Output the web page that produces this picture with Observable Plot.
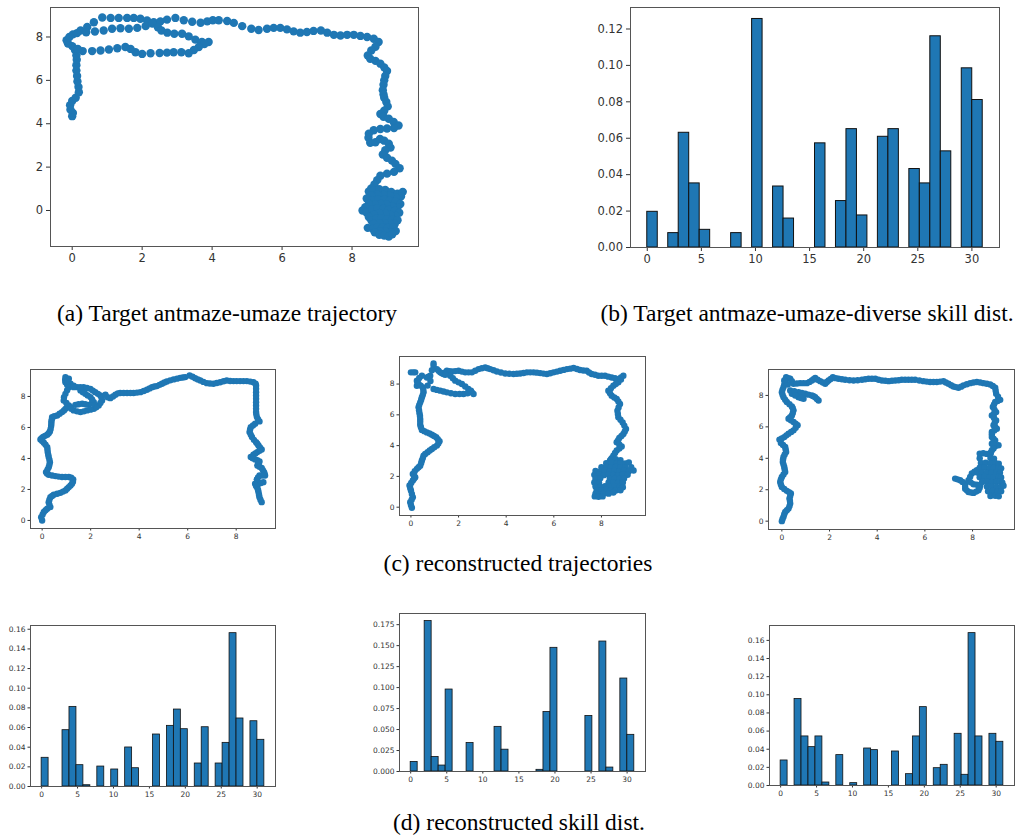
<!DOCTYPE html>
<html><head><meta charset="utf-8">
<script src="https://cdn.jsdelivr.net/npm/d3@7"></script>
<script src="https://cdn.jsdelivr.net/npm/@observablehq/plot@0.6"></script>
<style>
body{margin:0;background:#fff;}
#fig{position:relative;width:1019px;height:836px;overflow:hidden;background:#fff;}
.cap{position:absolute;font-family:"Liberation Serif","Times New Roman",serif;font-size:23.5px;line-height:23.5px;white-space:nowrap;color:#000;transform:translateX(-50%);}
</style></head><body><div id="fig"></div>
<script>
// ---------- data ----------
const skillBins = d3.range(32);           // skill ids 0..31 (hist, 32 bins over [0,31])
const skillTicks = [0, 5, 10, 15, 20, 25, 30];
const trajTicks = [0, 2, 4, 6, 8];

const targetSkill = [0.0196,0,0.0079,0.0630,0.0352,0.0097,0,0,0.0079,0,0.1255,0,0.0335,0.0159,0,0,0.0572,0,0.0255,0.0650,0.0176,0,0.0608,0.0650,0,0.0431,0.0352,0.1160,0.0528,0,0.0984,0.0810];
const reconSkill1 = [0.0292,0,0,0.0573,0.0810,0.0217,0.0013,0,0.0203,0,0.0173,0,0.0397,0.0186,0,0,0.0529,0,0.0617,0.0783,0.0583,0,0.0234,0.0603,0,0.0234,0.0444,0.1560,0.0692,0,0.0664,0.0475];
const reconSkill2 = [0.0114,0,0.1793,0.0173,0.0071,0.0977,0,0,0.0339,0,0,0,0.0532,0.0260,0,0,0,0,0.0020,0.0709,0.1474,0,0,0,0,0.0662,0,0.1549,0.0047,0,0.1108,0.0437];
const reconSkill3 = [0.0276,0,0.0953,0.0541,0.0423,0.0541,0.0033,0,0.0335,0,0.0026,0,0.0408,0.0390,0,0,0.0375,0,0.0125,0.0541,0.0864,0,0.0191,0.0228,0,0.0570,0.0118,0.1680,0.0541,0,0.0570,0.0482];

const trajTarget = [
[0.0,4.35],[0.02,4.5],[-0.05,4.65],[-0.06,4.85],[0.0,5.05],[0.1,5.2],[0.19,5.45],[0.18,5.7],[0.15,5.95],[0.14,6.2],[0.12,6.45],[0.12,6.7],[0.13,6.95],[0.12,7.15],[0.08,7.4],[0.0,7.58],[-0.12,7.7],[-0.16,7.85],[-0.08,8.0],[0.02,8.12],
[0.24,8.3],[0.43,8.46],[0.62,8.68],[0.86,8.9],[1.1,8.88],[1.33,8.88],[1.57,8.88],[1.76,8.88],[1.95,8.84],[2.14,8.76],[2.33,8.68],[2.52,8.72],[2.71,8.8],[2.95,8.88],[3.19,8.77],[3.43,8.7],[3.67,8.66],[3.86,8.72],[4.02,8.77],[4.19,8.77],[4.43,8.74],[4.62,8.65],[4.86,8.5],[5.12,8.38],[5.33,8.32],[5.57,8.38],[5.76,8.42],[5.95,8.42],[6.14,8.35],[6.33,8.26],[6.52,8.2],[6.71,8.23],[6.9,8.28],[7.11,8.3],[7.29,8.2],[7.48,8.1],[7.67,8.07],[7.86,8.1],[8.05,8.1],[8.24,8.05],[8.43,8.0],[8.62,7.92],[8.76,7.77],[8.67,7.55],[8.55,7.38],[8.45,7.15],[8.52,7.0],[8.67,6.9],[8.81,6.77],[8.92,6.6],[9.0,6.43],[8.95,6.2],[8.92,6.0],[8.9,5.8],[8.88,5.55],[8.9,5.35],[8.92,5.2],[8.98,5.0],[9.02,4.8],[8.92,4.6],[8.81,4.45],[8.9,4.32],[9.05,4.23],[9.19,4.08],[9.33,3.92],[9.2,3.8],[9.0,3.78],[8.81,3.76],[8.62,3.7],[8.48,3.54],[8.47,3.35],[8.52,3.12],[8.67,3.15],[8.8,3.3],[8.92,3.22],[9.05,3.08],[9.1,2.9],[8.95,2.78],[8.88,2.58],[9.0,2.43],[9.14,2.3],[9.24,2.15],[9.36,1.95],[9.2,1.78],[9.0,1.7],[8.81,1.6],[8.72,1.4],[8.64,1.2],
[0.14,8.18],[0.4,8.22],[0.65,8.25],[0.9,8.3],[1.14,8.38],[1.38,8.4],[1.62,8.38],[1.86,8.42],[2.1,8.5],[2.29,8.62],[2.45,8.45],[2.55,8.3],[2.72,8.2],[2.92,8.15],[3.14,8.15],[3.33,8.03],[3.52,7.88],[3.71,7.77],[3.9,7.77],[3.78,7.68],[3.62,7.54],[3.48,7.4],[3.33,7.25],[3.12,7.3],[2.9,7.3],[2.71,7.28],[2.5,7.26],[2.24,7.25],[2.0,7.22],[1.81,7.3],[1.67,7.45],[1.52,7.54],[1.29,7.48],[1.05,7.42],[0.81,7.38],[0.57,7.35],[0.3,7.35],[0.16,7.45],
[8.55,1.02],[8.48,0.88],[8.62,0.92],[8.78,0.98],[8.95,0.95],[9.12,0.85],[9.3,0.78],[9.45,0.86],[9.4,0.65],[9.25,0.6],[9.08,0.68],[8.9,0.72],[8.72,0.75],[8.55,0.7],[8.42,0.55],[8.58,0.48],[8.75,0.52],[8.92,0.5],[9.08,0.45],[9.25,0.4],[9.38,0.3],[9.3,0.15],[9.15,0.2],[8.98,0.28],[8.82,0.3],[8.65,0.28],[8.48,0.3],[8.38,0.15],[8.3,0.0],[8.42,-0.1],[8.58,0.05],[8.72,0.1],[8.9,0.08],[9.05,0.02],[9.22,-0.02],[9.35,-0.1],[9.25,-0.25],[9.1,-0.2],[8.95,-0.15],[8.78,-0.12],[8.62,-0.2],[8.48,-0.3],[8.55,-0.45],[8.7,-0.38],[8.85,-0.35],[9.0,-0.4],[9.15,-0.42],[9.3,-0.45],[9.22,-0.62],[9.08,-0.6],[8.92,-0.58],[8.78,-0.6],[8.62,-0.62],[8.45,-0.8],[8.6,-0.85],[8.72,-0.78],[8.88,-0.78],[9.02,-0.8],[9.18,-0.78],[9.25,-0.95],[9.1,-1.0],[8.95,-0.98],[8.8,-0.95],[8.65,-1.0],[8.78,-1.12],[8.92,-1.15],[9.05,-1.2],[9.15,-1.1]
];

const trajRecon1 = [
[0,0],[-0.04,0.21],[0.07,0.54],[0.21,0.75],[0.34,0.86],[0.27,1.18],[0.34,1.5],[0.48,1.66],[0.75,1.78],[0.96,1.94],[1.1,2.15],[1.23,2.37],[1.28,2.65],[1.1,2.8],[0.82,2.8],[0.55,2.86],[0.27,2.95],[0.16,3.12],[0.27,3.44],[0.32,3.76],[0.27,4.09],[0.23,4.41],[0.21,4.73],[0.07,5.01],[-0.07,5.23],[0.04,5.38],[0.21,5.53],[0.32,5.74],[0.37,6.09],[0.38,6.39],[0.41,6.67],[0.62,6.77],[0.82,6.99],[0.96,7.2],[1.1,7.42],[0.89,7.74],[0.96,8.17],[1.1,8.6],[0.96,8.92],[0.96,9.25],[1.1,9.14],[1.17,8.82],
[0.02,0.38],[0.14,0.66],[0.3,1.02],[0.3,1.34],[0.41,1.58],[0.62,1.72],[0.86,1.86],[1.03,2.05],[1.17,2.26],[1.27,2.5],[1.2,2.75],[0.96,2.8],[0.68,2.83],[0.41,2.9],[0.2,3.03],[0.22,3.28],[0.3,3.6],[0.3,3.92],[0.25,4.25],[0.22,4.57],[0.14,4.88],[0.0,5.12],[-0.02,5.3],[0.12,5.46],[0.27,5.63],[0.35,5.9],[0.38,6.24],[0.4,6.53],[0.5,6.72],[0.72,6.88],[0.9,7.1],[1.03,7.31],[1.0,7.58],[0.9,7.95],[1.03,8.4],[1.03,8.75],[0.95,9.08],[1.05,9.0],
[1.44,8.6],[1.71,8.6],[1.99,8.49],[2.19,8.28],[2.4,8.06],[2.47,7.74],[2.33,7.42],[2.13,7.2],[1.85,7.1],[1.58,6.99],[1.3,7.1],[1.17,7.31],[1.37,7.46],[1.65,7.53],[1.92,7.46],[2.13,7.63],[1.99,7.96],[1.78,8.17],[1.58,8.39],
[1.3,8.6],[1.57,8.6],[1.85,8.55],[2.09,8.38],[2.3,8.17],[2.45,7.9],[2.4,7.58],[2.23,7.3],[1.99,7.15],[1.72,7.04],[1.44,7.04],[1.5,7.5],[1.78,7.5],[2.05,7.55],[2.06,7.8],[1.88,8.07],[1.68,8.28],[1.3,8.7],[1.2,7.2],
[2.61,8.11],[2.81,7.89],[3.02,8.11],[3.22,8.22],[3.5,8.22],[3.77,8.22],[4.05,8.28],[4.32,8.43],[4.53,8.6],[4.73,8.67],[4.94,8.82],[5.14,8.97],[5.42,9.1],[5.69,9.2],[5.9,9.25],[6.08,9.35],[6.31,9.18],[6.52,9.03],[6.79,8.86],[7.06,8.82],[7.34,8.92],[7.61,9.03],[7.89,8.99],[8.16,8.99],[8.44,8.99],[8.71,8.92],[8.82,8.71],[8.82,8.28],[8.82,7.85],[8.82,7.42],[8.82,6.99],[8.85,6.67],[8.96,6.39],[8.78,6.24],[8.6,6.02],[8.55,5.7],[8.65,5.38],[8.82,5.05],[8.92,4.84],[9.05,4.58],[8.87,4.41],[8.71,4.24],[8.6,4.09],[8.78,3.94],[8.96,3.81],[8.87,3.55],[9.05,3.38],[9.15,3.12],[9.19,2.9],[8.96,2.9],[8.85,2.65],[8.92,2.37],[9.12,2.47],[8.78,2.37],[8.87,2.09],[8.92,1.83],[8.96,1.5],[9.05,1.18],
[2.7,7.95],[2.92,8.0],[3.12,8.2],[3.36,8.22],[3.64,8.22],[3.91,8.25],[4.19,8.35],[4.43,8.52],[4.63,8.64],[4.84,8.75],[5.04,8.9],[5.28,9.04],[5.56,9.15],[5.8,9.22],[6.2,9.27],[6.42,9.1],[6.65,8.94],[6.92,8.84],[7.2,8.87],[7.48,8.98],[7.75,9.0],[8.02,8.99],[8.3,8.99],[8.58,8.96],[8.8,8.82],[8.82,8.5],[8.82,8.07],[8.82,7.63],[8.82,7.2],[8.83,6.83],[8.9,6.53],[8.69,6.13],[8.57,5.86],[8.6,5.54],[8.73,5.2],[8.87,4.95],[8.98,4.71],[8.96,4.5],[8.79,4.32],[8.68,4.02],[8.87,3.88],[8.92,3.68],[8.96,3.46],[9.1,3.25],[9.17,3.0],[9.07,2.9],[8.9,2.78],[8.88,2.5],[9.02,2.42],[8.82,2.23],[8.9,1.96],[8.94,1.66],[9.0,1.34]
];

const trajRecon2 = [
[0.04,-0.04],[-0.03,0.32],[0.08,0.65],[0,1.08],[-0.06,1.41],[0.08,1.73],[0.18,1.95],[0.08,2.16],[0.25,2.49],[0.39,2.7],[0.46,3.03],[0.53,3.35],[0.7,3.57],[0.88,3.78],[1.09,4.0],[1.2,4.28],[1.06,4.54],[0.88,4.71],[0.67,4.86],[0.46,5.02],[0.39,5.36],[0.39,5.73],[0.36,6.1],[0.32,6.49],[0.39,6.81],[0.46,7.14],[0.53,7.46],[0.5,7.78],[0.32,8.0],[0.25,8.22],[0.46,8.54],[0.18,8.76],[0,8.76],[0.25,7.89],
[0.0,0.15],[0.03,0.48],[0.04,0.86],[-0.03,1.25],[0.01,1.57],[0.13,1.84],[0.13,2.05],[0.16,2.33],[0.32,2.6],[0.43,2.87],[0.5,3.19],[0.6,3.46],[0.79,3.68],[0.98,3.89],[1.15,4.14],[1.13,4.41],[0.97,4.63],[0.78,4.79],[0.56,4.94],[0.42,5.2],[0.39,5.55],[0.38,5.92],[0.34,6.3],[0.35,6.65],[0.43,6.98],[0.5,7.3],[0.52,7.62],[0.41,7.9],[0.28,8.1],[0.35,8.4],[0.1,8.76],
[0.67,8.43],[0.81,8.54],[0.95,9.19],[0.95,9.34],[1.09,8.97],[1.23,8.76],[1.37,8.65],[1.51,8.86],[1.72,8.82],[2.0,8.86],[2.28,8.76],[2.56,8.76],[2.84,8.97],[3.12,9.08],[3.33,8.97],[3.61,8.82],[3.96,8.69],[4.31,8.65],[4.59,8.69],[4.87,8.76],[5.15,8.76],[5.43,8.71],[5.71,8.65],[5.99,8.76],[6.27,8.86],[6.55,8.97],[6.83,9.04],[7.1,8.91],[7.38,8.86],[7.59,8.65],[7.87,8.54],[8.15,8.54],[8.43,8.43],[8.71,8.32],[8.92,8.54],[8.71,8.11],[8.5,7.89],[8.29,7.57],[8.43,7.24],[8.64,7.03],[8.78,6.7],[8.67,6.27],[8.71,5.84],[8.89,5.51],[9.03,5.08],[8.92,4.76],[8.75,4.5],[8.64,4.22],[8.85,3.94],[8.64,3.68],[8.5,3.35],[8.36,3.03],
[0.74,8.48],[0.88,8.9],[1.16,8.86],[1.3,8.7],[1.44,8.76],[1.61,8.84],[1.86,8.84],[2.14,8.81],[2.42,8.76],[2.7,8.86],[2.98,9.03],[3.22,9.03],[3.47,8.9],[3.78,8.75],[4.13,8.67],[4.45,8.67],[4.73,8.72],[5.01,8.76],[5.29,8.74],[5.57,8.68],[5.85,8.7],[6.13,8.81],[6.41,8.92],[6.69,9.0],[6.97,8.98],[7.24,8.88],[7.48,8.75],[7.73,8.6],[8.01,8.54],[8.29,8.48],[8.57,8.38],[8.82,8.43],[8.82,8.3],[8.6,8.0],[8.4,7.73],[8.36,7.4],[8.54,7.13],[8.71,6.87],[8.72,6.48],[8.69,6.05],[8.8,5.68],[8.96,5.3],[8.98,4.92],[8.84,4.63],[8.7,4.36],[8.75,4.08],[8.75,3.81],[8.57,3.52],[8.43,3.19],
[0.95,7.68],[1.23,7.57],[1.51,7.46],[1.86,7.35],[2.21,7.35],[2.56,7.46],[2.63,7.35],[2.41,7.68],[2.14,8.0],[1.86,8.22],[1.65,8.54],[0.7,7.9],[0.82,8.2],
[1.09,7.62],[1.37,7.52],[1.68,7.4],[2.04,7.35],[2.38,7.4],[2.52,7.57],[2.28,7.84],[2.0,8.11],[1.76,8.38],[1.44,8.6],
[8.4,3.1],[8.6,3.12],[8.8,3.05],[8.2,2.85],[8.42,2.88],[8.62,2.82],[8.8,2.86],[9.0,2.84],[9.15,2.9],[8.0,2.6],[8.2,2.62],[8.4,2.58],[8.6,2.62],[8.8,2.6],[9.0,2.58],[9.25,2.6],[7.75,2.35],[7.95,2.32],[8.15,2.38],[8.35,2.33],[8.55,2.36],[8.75,2.32],[8.95,2.38],[9.15,2.34],[9.35,2.38],[7.7,2.1],[7.9,2.12],[8.1,2.08],[8.3,2.12],[8.5,2.1],[8.7,2.08],[8.9,2.12],[9.1,2.1],[7.75,1.85],[7.95,1.88],[8.35,1.84],[8.55,1.86],[8.75,1.83],[8.95,1.87],[7.7,1.6],[7.9,1.58],[8.3,1.6],[8.5,1.62],[8.7,1.58],[8.9,1.6],[7.75,1.35],[7.95,1.33],[8.15,1.37],[8.35,1.34],[8.55,1.36],[8.75,1.33],[8.9,1.3],[7.8,1.1],[8.0,1.08],[8.2,1.12],[8.4,1.1],[8.6,1.08],[8.8,1.1],[7.75,0.88],[7.92,0.85],[8.1,0.9],[8.3,0.88],[8.5,0.95],[7.72,0.7],[7.88,0.68],[8.05,0.7]
];

const trajRecon3 = [
[0,0],[0.07,0.28],[0.14,0.59],[0.28,0.8],[0.35,1.12],[0.32,1.44],[0.38,1.76],[0.21,1.93],[0,2.18],[-0.07,2.5],[0,2.81],[0.14,3.13],[0.1,3.45],[0.04,3.77],[0.07,4.08],[0.18,4.4],[0.14,4.72],[-0.04,4.97],[-0.1,5.19],[0.1,5.35],[0.28,5.57],[0.49,5.78],[0.66,6.1],[0.49,6.31],[0.28,6.52],[0.42,6.73],[0.49,7.05],[0.42,7.3],[0.21,7.58],[0.07,7.89],[0,8.21],[0.07,8.53],[0.14,8.85],[0.18,9.16],[0.35,9.06],[0.49,8.74],
[0.03,0.14],[0.1,0.44],[0.21,0.7],[0.32,0.96],[0.34,1.28],[0.35,1.6],[0.3,1.85],[0.1,2.05],[-0.04,2.34],[-0.04,2.66],[0.07,2.97],[0.12,3.29],[0.07,3.61],[0.05,3.93],[0.12,4.24],[0.16,4.56],[0.05,4.85],[0.0,5.27],[0.19,5.46],[0.39,5.68],[0.58,5.94],[0.58,6.2],[0.38,6.42],[0.35,6.62],[0.46,6.89],[0.46,7.18],[0.32,7.44],[0.14,7.73],[0.03,8.05],[0.03,8.37],[0.1,8.69],[0.16,9.0],[0.27,9.1],[0.42,8.9],
[0.77,8.78],[1.05,8.78],[1.26,8.95],[1.4,9.12],[1.61,8.91],[1.82,8.74],[1.96,8.95],[2.14,9.16],[2.38,9.06],[2.66,9.0],[3.01,8.95],[3.36,9.0],[3.64,9.06],[3.92,9.06],[4.2,8.95],[4.48,8.91],[4.76,8.95],[5.03,9.0],[5.31,9.0],[5.59,9.0],[5.94,8.91],[6.22,8.85],[6.5,8.85],[6.78,8.91],[6.99,8.74],[7.2,8.57],[7.41,8.49],[7.62,8.64],[7.9,8.78],[8.18,8.85],[8.46,8.78],[8.74,8.7],[8.95,8.49],[8.99,8.11],[9.16,7.72],[8.95,7.58],[8.85,7.26],[8.99,6.94],[8.81,6.73],[8.99,6.41],[8.88,6.1],[9.02,5.88],[8.81,5.67],[8.81,5.35],[8.95,5.14],[8.81,4.93],[8.95,4.76],[9.09,4.83],[8.81,4.51],[8.74,4.25],
[0.63,8.76],[0.91,8.78],[1.16,8.86],[1.33,9.03],[1.5,9.0],[1.72,8.82],[1.89,8.85],[2.05,9.05],[2.26,9.1],[2.52,9.03],[2.84,8.97],[3.18,8.97],[3.5,9.03],[3.78,9.06],[4.06,9.0],[4.34,8.93],[4.62,8.93],[4.9,8.97],[5.17,9.0],[5.45,9.0],[5.77,8.95],[6.08,8.88],[6.36,8.85],[6.64,8.88],[6.88,8.82],[7.1,8.65],[7.3,8.53],[7.52,8.56],[7.76,8.71],[8.04,8.82],[8.32,8.82],[8.6,8.74],[8.85,8.6],[8.97,8.3],[9.07,7.92],[9.05,7.65],[8.9,7.42],[8.92,7.1],[8.9,6.83],[8.9,6.57],[8.93,6.25],[8.95,5.99],[8.91,5.77],[8.81,5.51],[8.88,5.24],[8.88,5.03],[8.88,4.85],[8.88,4.63],[8.77,4.38],
[0.35,8.32],[0.7,8.21],[0.98,8.11],[1.26,8.0],[1.4,7.89],[1.54,7.68],[0.42,8.11],[0.7,7.89],[0.91,7.79],[0.25,8.7],[0.1,8.95],
[0.52,8.27],[0.84,8.16],[1.12,8.05],[1.33,7.95],[1.47,7.78],[0.56,8.0],[0.8,7.84],
[7.27,2.71],[7.48,2.6],[7.69,2.39],[7.69,2.07],[7.83,1.86],[8.04,1.8],[8.25,1.97],[8.32,2.29],[8.04,2.35],[7.83,2.6],[7.97,3.03],[8.18,3.24],
[7.37,2.66],[7.58,2.5],[7.69,2.23],[7.76,1.96],[7.94,1.82],[8.15,1.88],[8.3,2.13],[8.18,2.32],[7.92,2.47],[7.9,2.82],[8.08,3.14],
[8.3,4.3],[8.45,4.32],[8.6,4.28],[8.75,4.3],[8.3,4.0],[8.75,4.02],[8.9,3.98],[8.35,3.7],[8.55,3.72],[8.75,3.68],[8.95,3.7],[9.1,3.66],[8.3,3.4],[8.5,3.42],[8.7,3.38],[8.9,3.4],[9.1,3.42],[9.2,3.36],[8.2,3.1],[8.4,3.12],[8.6,3.08],[8.8,3.1],[9.0,3.12],[9.15,3.08],[8.3,2.8],[8.5,2.82],[8.7,2.78],[8.9,2.8],[9.1,2.82],[9.2,2.78],[8.4,2.5],[8.6,2.52],[8.8,2.48],[9.0,2.5],[9.15,2.52],[9.25,2.45],[8.6,2.2],[8.8,2.22],[9.0,2.18],[9.2,2.2],[9.3,2.25],[8.65,1.9],[8.85,1.92],[9.05,1.88],[9.2,1.9],[8.75,1.6],[8.95,1.62],[9.1,1.58]
];

const fig = document.getElementById("fig");
const BLUE = "#1f77b4";

function place(chart, left, top, mL, mT) {
  chart.style.position = "absolute";
  chart.style.left = (left - mL) + "px";
  chart.style.top = (top - mT) + "px";
  fig.appendChild(chart);
}

function scatterPanel(pts, o) {
  const mL = 40, mT = 2, mR = 4, mB = 24;
  const chart = Plot.plot({
    width: o.w + mL + mR, height: o.h + mT + mB,
    marginLeft: mL, marginRight: mR, marginTop: mT, marginBottom: mB,
    style: {fontFamily: "DejaVu Sans", fontSize: o.fs + "px", color: "#333", background: "transparent", overflow: "visible"},
    x: {domain: o.xd, ticks: trajTicks, tickSize: o.ts, tickPadding: o.tp, label: null},
    y: {domain: o.yd, ticks: trajTicks, tickSize: o.ts, tickPadding: o.tp, label: null},
    marks: [
      Plot.dot(pts, {x: d => d[0], y: d => d[1], r: o.r, fill: BLUE, stroke: null}),
      Plot.frame({stroke: "#555", strokeWidth: 1})
    ]
  });
  place(chart, o.left, o.top, mL, mT);
}

function barPanel(vals, o) {
  const mL = 40, mT = 2, mR = 4, mB = 24;
  const data = skillBins.map(k => ({k, v: vals[k]})).filter(d => d.v > 0);
  const chart = Plot.plot({
    width: o.w + mL + mR, height: o.h + mT + mB,
    marginLeft: mL, marginRight: mR, marginTop: mT, marginBottom: mB,
    style: {fontFamily: "DejaVu Sans", fontSize: o.fs + "px", color: "#333", background: "transparent", overflow: "visible"},
    x: {domain: [-1.55, 32.55], ticks: skillTicks, tickSize: o.ts, tickPadding: o.tp, label: null},
    y: {domain: [0, o.ymax], ticks: o.yt, tickFormat: d3.format(o.fmt), tickSize: o.ts, tickPadding: o.tp, label: null},
    marks: [
      Plot.rect(data, {x1: d => d.k * 31 / 32, x2: d => (d.k + 1) * 31 / 32, y1: 0, y2: "v", fill: BLUE, stroke: "#111", strokeWidth: o.sw}),
      Plot.frame({stroke: "#555", strokeWidth: 1})
    ]
  });
  place(chart, o.left, o.top, mL, mT);
}

scatterPanel(trajTarget, {left: 50, top: 7, w: 368, h: 239, xd: [-0.62, 9.9], yd: [-1.66, 9.36], r: 4.2, fs: 11.5, ts: 4, tp: 3.5});
barPanel(targetSkill, {left: 630, top: 7, w: 369, h: 240, ymax: 0.1318, yt: d3.range(0, 0.121, 0.02), fmt: ".2f", fs: 11.5, ts: 4, tp: 3.5, sw: 1});

scatterPanel(trajRecon1, {left: 30, top: 369, w: 245, h: 159, xd: [-0.48, 9.62], yd: [-0.52, 9.74], r: 3.2, fs: 7.5, ts: 2.5, tp: 2.5});
scatterPanel(trajRecon2, {left: 399, top: 356, w: 246, h: 159, xd: [-0.48, 9.85], yd: [-0.54, 9.79], r: 3.2, fs: 7.5, ts: 2.5, tp: 2.5});
scatterPanel(trajRecon3, {left: 768, top: 369, w: 246, h: 160, xd: [-0.56, 9.76], yd: [-0.53, 9.65], r: 3.2, fs: 7.5, ts: 2.5, tp: 2.5});

barPanel(reconSkill1, {left: 30, top: 625, w: 245, h: 161, ymax: 0.1638, yt: d3.range(0, 0.161, 0.02), fmt: ".2f", fs: 7.5, ts: 2.5, tp: 2.5, sw: 0.8});
barPanel(reconSkill2, {left: 399, top: 613, w: 246, h: 158, ymax: 0.1883, yt: d3.range(0, 0.176, 0.025), fmt: ".3f", fs: 7.5, ts: 2.5, tp: 2.5, sw: 0.8});
barPanel(reconSkill3, {left: 769, top: 625, w: 245, h: 160, ymax: 0.1764, yt: d3.range(0, 0.161, 0.02), fmt: ".2f", fs: 7.5, ts: 2.5, tp: 2.5, sw: 0.8});

const captions = [
  {text: "(a) Target antmaze-umaze trajectory", x: 227, y: 302},
  {text: "(b) Target antmaze-umaze-diverse skill dist.", x: 807, y: 302},
  {text: "(c) reconstructed trajectories", x: 518, y: 552},
  {text: "(d) reconstructed skill dist.", x: 519, y: 811}
];
for (const c of captions) {
  const d = document.createElement("div");
  d.className = "cap";
  d.textContent = c.text;
  d.style.left = c.x + "px";
  d.style.top = c.y + "px";
  fig.appendChild(d);
}
</script></body></html>
